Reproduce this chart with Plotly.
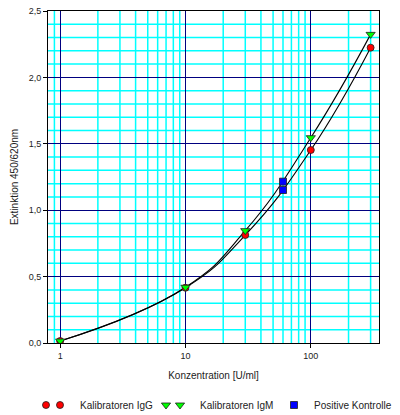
import plotly.graph_objects as go
import math

# Data
conc_cal = [1, 10, 30, 100, 300]
igg = [0.015, 0.416, 0.813, 1.453, 2.224]
igm = [0.015, 0.420, 0.846, 1.546, 2.324]
pos_conc = [60, 60]
pos_ext = [1.215, 1.152]

x_ticks = [1, 10, 100]
x_labels = ["1", "10", "100"]
x_minor = [0.9, 2, 3, 4, 5, 6, 7, 8, 9, 20, 30, 40, 50, 60, 70, 80, 90, 200, 300]
y_ticks = [0, 0.5, 1.0, 1.5, 2.0, 2.5]
y_labels = ["0,0", "0,5", "1,0", "1,5", "2,0", "2,5"]
y_minor = [0.1, 0.2, 0.3, 0.4, 0.6, 0.7, 0.8, 0.9, 1.1, 1.2, 1.3, 1.4,
           1.6, 1.7, 1.8, 1.9, 2.1, 2.2, 2.3, 2.4]

FONT = "Liberation Sans, Arial, sans-serif"
CYAN = "#00FFFF"

fig = go.Figure()

# fitted curves (black lines)
for ys in (igg, igm):
    fig.add_trace(go.Scatter(x=conc_cal, y=ys, mode="lines",
                             line=dict(color="black", width=1.1, shape="spline", smoothing=1.3),
                             showlegend=False, hoverinfo="skip"))

outline = dict(color="#202020", width=0.8)
red_m = dict(symbol="circle", size=7, color="#FF0000", line=outline)
green_m = dict(symbol="triangle-down", size=8, color="#00FF00", line=outline)
blue_m = dict(symbol="square", size=7, color="#0000FF", line=outline)

# legend dummy entries (first symbol of each pair)
fig.add_trace(go.Scatter(x=[None], y=[None], mode="markers", name="", legend="legend",
                         marker=red_m))
fig.add_trace(go.Scatter(x=conc_cal, y=igg, mode="markers", name="Kalibratoren IgG",
                         legend="legend2", marker=red_m))
fig.add_trace(go.Scatter(x=[None], y=[None], mode="markers", name="", legend="legend3",
                         marker=green_m))
fig.add_trace(go.Scatter(x=conc_cal, y=igm, mode="markers", name="Kalibratoren IgM",
                         legend="legend4", marker=green_m))
fig.add_trace(go.Scatter(x=pos_conc, y=pos_ext, mode="markers", name="Positive Kontrolle",
                         legend="legend5", marker=blue_m))

# minor grid (cyan) below the navy major grid
for v in x_minor:
    fig.add_shape(type="line", xref="x", yref="paper", x0=v, x1=v, y0=0, y1=1,
                  line=dict(color=CYAN, width=1.5), layer="below")
for v in y_minor:
    fig.add_shape(type="line", xref="paper", yref="y", x0=0, x1=1, y0=v, y1=v,
                  line=dict(color=CYAN, width=1.5), layer="below")

# plot area in px: left 48, width 331
def lx(symbol_px):
    return (symbol_px - 20 - 48) / 331.0

leg_y = (343 - 405) / 332.0
leg_common = dict(orientation="h", xanchor="left", y=leg_y, yanchor="middle",
                  font=dict(size=10, family=FONT, color="#222222"),
                  itemwidth=30, bgcolor="rgba(0,0,0,0)", borderwidth=0)

fig.update_layout(
    width=400, height=415,
    margin=dict(l=48, r=21, t=11, b=72, autoexpand=False),
    paper_bgcolor="white", plot_bgcolor="white",
    separators=",.",
    font=dict(family=FONT, size=10, color="#222222"),
    showlegend=True,
    legend=dict(x=lx(46), **leg_common),
    legend2=dict(x=lx(60), **leg_common),
    legend3=dict(x=lx(166), **leg_common),
    legend4=dict(x=lx(180), **leg_common),
    legend5=dict(x=lx(294), **leg_common),
    xaxis=dict(type="log", range=[math.log10(0.8), math.log10(350)],
               tickmode="array", tickvals=x_ticks, ticktext=x_labels,
               ticks="outside", ticklen=4, tickcolor="black",
               showline=True, linecolor="black", linewidth=1, mirror=True,
               showgrid=True, gridcolor="#000080", gridwidth=1,
               zeroline=False,
               title=dict(text="Konzentration [U/ml]", font=dict(size=10, family=FONT), standoff=12),
               tickfont=dict(size=9, family=FONT)),
    yaxis=dict(range=[0, 2.5], tickmode="array", tickvals=y_ticks, ticktext=y_labels,
               ticks="outside", ticklen=4, tickcolor="black",
               showline=True, linecolor="black", linewidth=1, mirror=True,
               showgrid=True, gridcolor="#000080", gridwidth=1,
               zeroline=False,
               title=dict(text="Extinktion 450/620nm", font=dict(size=10, family=FONT), standoff=8),
               tickfont=dict(size=9, family=FONT)),
)

fig.write_html("out.html", config={"displayModeBar": False},
               post_script="document.body.style.margin='0';document.body.style.overflow='hidden';")
